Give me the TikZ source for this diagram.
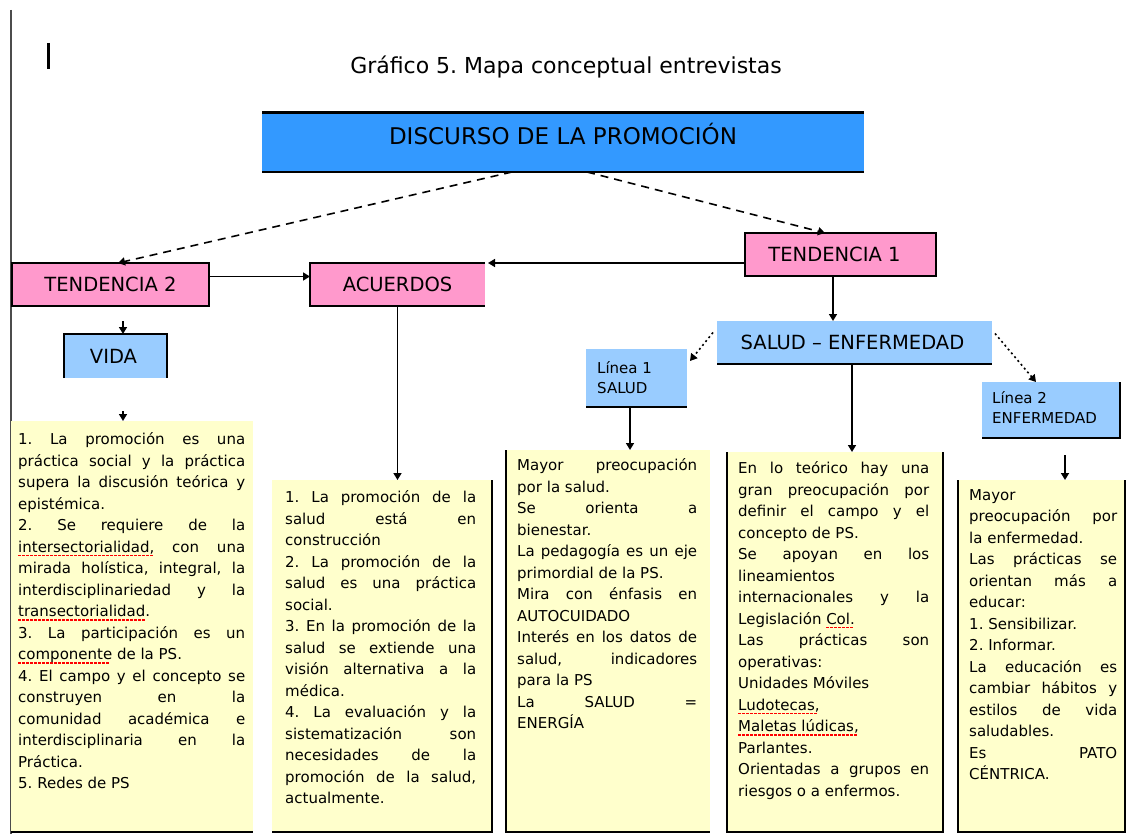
\documentclass[tikz,border=0pt]{standalone}
\usepackage{fontspec}
\setmainfont{DejaVu Sans}
\usetikzlibrary{arrows.meta}
\definecolor{deepblue}{HTML}{3399FF}
\definecolor{paleblue}{HTML}{99CCFF}
\definecolor{pinkfill}{HTML}{FF99CC}
\definecolor{notefill}{HTML}{FFFFCC}
% red dashed underline used by the spell checker marks
\newsavebox\spellbox
\newcommand\spell[1]{\leavevmode\sbox\spellbox{#1}%
  \rlap{\leaders\hbox{{\color{red}\rule[-3.8pt]{2.5pt}{1.5pt}}\kern1.5pt}\hskip\wd\spellbox}%
  \usebox\spellbox}
\newcommand\fl{\rule{0pt}{11.5pt}}
\tolerance=9999
\hbadness=10000
\hyphenpenalty=10000
\exhyphenpenalty=10000
\frenchspacing
\setlength\parindent{0pt}
\tikzset{
  box/.style={anchor=north west, inner sep=0pt, outer sep=0pt},
  pinkbox/.style={box, fill=pinkfill},
  bluebox/.style={box, fill=paleblue},
  notebox/.style={box, fill=notefill},
  edge/.style={line width=2pt, black},
  label/.style={inner sep=0pt, font=\fontsize{19.5}{22}\selectfont},
  smalltext/.style={anchor=north west, inner sep=0pt, align=left,
    font=\fontsize{15}{20}\selectfont},
  notetext/.style={anchor=north west, inner sep=0pt, align=justify,
    font=\fontsize{15}{21.5}\selectfont\frenchspacing},
  arr/.style={-{Triangle[length=7pt,width=8pt]}, line width=1.6pt},
  dashedlink/.style={dash pattern=on 8pt off 6pt},
  dottedlink/.style={dash pattern=on 2pt off 3pt}
}
\begin{document}
\begin{tikzpicture}[x=1pt, y=-1pt]
\useasboundingbox (0,0) rectangle (1134,834);
\fill[white] (0,0) rectangle (1134,834);

% page margin rule and cursor mark
\draw[line width=2.5pt, black!70] (11,10) -- (11,834);
\draw[line width=3pt] (48,43) -- (48,69);

\node[inner sep=0pt, font=\fontsize{22}{26}\selectfont] (title) at (566,67)
  {Gráfico 5. Mapa conceptual entrevistas};

% ---- boxes ----
\node[box, fill=deepblue, minimum width=602pt, minimum height=59pt] (disc) at (262,113) {};
\node[pinkbox, minimum width=191pt, minimum height=43pt] (t1) at (745,233) {};
\node[pinkbox, minimum width=197pt, minimum height=43pt] (t2) at (12,263) {};
\node[pinkbox, minimum width=175pt, minimum height=43pt] (ac) at (310,263) {};
\node[bluebox, minimum width=103pt, minimum height=44pt] (vida) at (64,334) {};
\node[bluebox, minimum width=275pt, minimum height=43pt] (se) at (717,321) {};
\node[bluebox, minimum width=101pt, minimum height=58pt] (l1) at (586,349) {};
\node[bluebox, minimum width=138pt, minimum height=56pt] (l2) at (982,382) {};
\node[notebox, minimum width=242pt, minimum height=411pt] (b1) at (11,421) {};
\node[notebox, minimum width=220pt, minimum height=352pt] (b2) at (272,480) {};
\node[notebox, minimum width=204pt, minimum height=382pt] (b3) at (506,450) {};
\node[notebox, minimum width=216pt, minimum height=380pt] (b4) at (727,452) {};
\node[notebox, minimum width=167pt, minimum height=352pt] (b5) at (958,480) {};

% ---- box outlines ----
\draw[edge, line width=3pt] (disc.north west) -- (disc.north east);
\draw[edge, line width=2.5pt] (disc.south west) -- (disc.south east);
\draw[edge] (t1.north west) rectangle (t1.south east);
\draw[edge] (t2.north west) rectangle (t2.south east);
\draw[edge] (ac.north east) -- (ac.north west) -- (ac.south west) -- (ac.south east);
\draw[edge] (vida.south west) -- (vida.north west) -- (vida.north east) -- (vida.south east);
\draw[edge] (se.south west) -- (se.south east);
\draw[edge] (l1.south west) -- (l1.south east);
\draw[edge] (l2.south west) -- (l2.south east) -- (l2.north east);
\draw[edge] (b1.south west) -- (b1.south east);
\draw[edge] (b2.south west) -- (b2.south east) -- (b2.north east);
\draw[edge] (b3.north west) -- (b3.south west) -- (b3.south east);
\draw[edge] (b4.north west) -- (b4.south west) -- (b4.south east) -- (b4.north east);
\draw[edge] (b5.north west) -- (b5.south west) -- (b5.south east) -- (b5.north east);

% ---- box titles ----
\node[label, font=\fontsize{23}{26}\selectfont] (disc-t) at ([yshift=8.5pt]disc.center) {DISCURSO DE LA PROMOCIÓN};
\node[label] (t1-t) at ([xshift=-6pt]t1.center) {TENDENCIA 1};
\node[label] (t2-t) at (t2.center) {TENDENCIA 2};
\node[label] (ac-t) at (ac.center) {ACUERDOS};
\node[label] (vida-t) at ([xshift=-2pt]vida.center) {VIDA};
\node[label] (se-t) at ([xshift=-2pt]se.center) {SALUD – ENFERMEDAD};
\node[smalltext] (l1-t) at (597,361.5) {\fl Línea 1\\SALUD};
\node[smalltext] (l2-t) at (992,391.5) {\fl Línea 2\\ENFERMEDAD};

% ---- notes ----
\node[notetext, text width=227pt] (b1-t) at (18,432.5) {\fl 1. La promoción es una\linebreak
práctica social y la práctica\linebreak supera la discusión teórica y\linebreak epistémica.\par
2. Se requiere de la\linebreak \spell{intersectorialidad,} con una\linebreak
mirada holística, integral, la\linebreak interdisciplinariedad y la\linebreak
\spell{transectorialidad.}\par
3. La participación es un\linebreak \spell{componente} de la PS.\par
4. El campo y el concepto se\linebreak construyen en la\linebreak comunidad académica e\linebreak
interdisciplinaria en la\linebreak Práctica.\par
5. Redes de PS\par};

\node[notetext, text width=191pt] (b2-t) at (285,490.5) {\fl 1. La promoción de la\linebreak
salud está en\linebreak construcción\par
2. La promoción de la\linebreak salud es una práctica\linebreak social.\par
3. En la promoción de la\linebreak salud se extiende una\linebreak visión alternativa a la\linebreak médica.\par
4. La evaluación y la\linebreak sistematización son\linebreak necesidades de la\linebreak
promoción de la salud,\linebreak actualmente.\par};

\node[notetext, text width=180pt] (b3-t) at (517,458.5) {\fl Mayor preocupación\linebreak por la salud.\par
Se orienta a\linebreak bienestar.\par
La pedagogía es un eje\linebreak primordial de la PS.\par
Mira con énfasis en\linebreak AUTOCUIDADO\par
Interés en los datos de\linebreak salud, indicadores\linebreak para la PS\par
La SALUD =\linebreak ENERGÍA\par};

\node[notetext, text width=191pt] (b4-t) at (738,461.5) {\fl En lo teórico hay una\linebreak
gran preocupación por\linebreak definir el campo y el\linebreak concepto de PS.\par
Se apoyan en los\linebreak lineamientos\linebreak internacionales y la\linebreak Legislación \spell{Col.}\par
Las prácticas son\linebreak operativas:\par
Unidades Móviles\par
\spell{Ludotecas,}\par
\spell{Maletas lúdicas,}\par
Parlantes.\par
Orientadas a grupos en\linebreak riesgos o a enfermos.\par};

\node[notetext, text width=148pt] (b5-t) at (969,488.5) {\fl Mayor\linebreak preocupación por\linebreak la enfermedad.\par
Las prácticas se\linebreak orientan más a\linebreak educar:\par
1. Sensibilizar.\par
2. Informar.\par
La educación es\linebreak cambiar hábitos y\linebreak estilos de vida\linebreak saludables.\par
Es PATO\linebreak CÉNTRICA.\par};

% ---- connectors ----
\draw[arr, dashedlink] ([xshift=-51pt]disc.south) -- ([xshift=7.5pt]t2.north);
\draw[arr, dashedlink] ([xshift=24pt]disc.south) -- ([xshift=-15.5pt]t1.north);
\draw[arr] ([yshift=8pt]t2.east) -- ([yshift=8pt]ac.west);
\draw[arr] ([yshift=-8.5pt]t1.west) -- ([xshift=3pt]ac.north east);
\draw[arr, shorten <=15pt] ([xshift=7.5pt]vida.north |- t2.south) -- ([xshift=7.5pt]vida.north);
\draw[arr, shorten <=33pt] ([xshift=7.5pt]vida.south) -- ([xshift=7.5pt]vida.south |- b1.north);
\draw[arr] (ac.south) -- (ac.south |- b2.north);
\draw[arr] ([xshift=-7.5pt]t1.south) -- ([xshift=-7.5pt]t1.south |- se.north);
\draw[arr, dottedlink] ([xshift=-4pt,yshift=10pt]se.west) -- ([xshift=3pt,yshift=17pt]l1.east);
\draw[arr, dottedlink] ([xshift=3pt,yshift=9pt]se.east) -- ([xshift=-15pt]l2.north);
\draw[arr] ([xshift=-2.5pt]se.south) -- ([xshift=-2.5pt]se.south |- b4.north);
\draw[arr] ([xshift=-6.5pt]l1.south) -- ([xshift=-6.5pt]l1.south |- b3.north);
\draw[arr, shorten <=17pt] ([xshift=14pt]l2.south) -- ([xshift=14pt]l2.south |- b5.north);
\end{tikzpicture}
\end{document}
